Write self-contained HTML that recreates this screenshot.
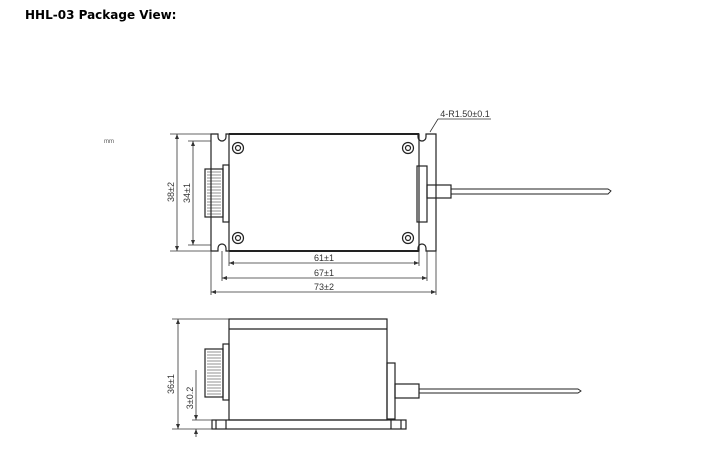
<!DOCTYPE html>
<html><head><style>
html,body{margin:0;padding:0;background:#fff;}
.t{position:absolute;left:25px;top:8px;font:bold 12px "DejaVu Sans",sans-serif;color:#000;}
</style></head><body>
<div style="position:relative;width:718px;height:455px;overflow:hidden">
<div class="t">HHL-03 Package View:</div>
<svg width="718" height="455" style="position:absolute;left:0;top:0" font-family="Liberation Sans, sans-serif">
<g stroke="#222" fill="none" stroke-width="1.2">
<!-- top view flange -->
<path d="M211,134 H218 V137 A4,4 0 0 0 226,137 V134 H418 V137 A4,4 0 0 0 426,137 V134 H436 V251 H426 V248 A4,4 0 0 0 418,248 V251 H226 V248 A4,4 0 0 0 218,248 V251 H211 Z"/>
<rect x="229" y="134" width="190" height="117"/>
<line x1="229" y1="134" x2="419" y2="134" stroke-width="2"/>
<line x1="229" y1="251" x2="419" y2="251" stroke-width="2"/>
<!-- left connector -->
<rect x="223" y="165" width="6" height="57"/>
<rect x="205" y="169" width="18" height="48"/>
<g stroke-width="0.5"><path d="M207,172H221M207,175H221M207,178H221M207,181H221M207,184H221M207,187H221M207,190H221M207,193H221M207,196H221M207,199H221M207,202H221M207,205H221M207,208H221M207,211H221M207,214H221"/></g>
<!-- right -->
<rect x="417" y="166" width="10" height="56"/>
<rect x="427" y="185" width="24" height="13"/>
<path d="M451,189 H608 L611,191 L608,194 H451" stroke-width="0.9"/>
<!-- holes -->
<circle cx="238" cy="148" r="5.5"/><circle cx="238" cy="148" r="2.5"/>
<circle cx="408" cy="148" r="5.5"/><circle cx="408" cy="148" r="2.5"/>
<circle cx="238" cy="238" r="5.5"/><circle cx="238" cy="238" r="2.5"/>
<circle cx="408" cy="238" r="5.5"/><circle cx="408" cy="238" r="2.5"/>
</g>
<g stroke="#333" fill="none" stroke-width="0.8">
<path d="M170,134H211 M170,251H211 M177,134V251 M188,141H211 M188,245H211 M193,141V245"/>
<path d="M229,251V266 M419,251V266 M222,251V281 M427,251V281 M211,251V295 M436,251V295"/>
<path d="M229,263H419 M222,278H427 M211,292H436"/>
<path d="M438,119 L430,132 M438,119 H491"/>
</g>
<g fill="#333">
<path d="M177,134l-2,5h4z M177,251l-2,-5h4z M193,141l-2,5h4z M193,245l-2,-5h4z"/>
<path d="M229,263l5,-2v4z M419,263l-5,-2v4z M222,278l5,-2v4z M427,278l-5,-2v4z M211,292l5,-2v4z M436,292l-5,-2v4z"/>
</g>
<g font-size="9" fill="#333" text-anchor="middle">
<text x="324" y="261">61±1</text>
<text x="324" y="276">67±1</text>
<text x="324" y="290">73±2</text>
<text x="174" y="192" transform="rotate(-90 174 192)">38±2</text>
<text x="190" y="193" transform="rotate(-90 190 193)">34±1</text>
<text x="465" y="117">4-R1.50±0.1</text>
<text x="174" y="384" transform="rotate(-90 174 384)">36±1</text>
<text x="193" y="398" transform="rotate(-90 193 398)">3±0.2</text>
</g>
<text x="104" y="143" font-size="6" fill="#555">mm</text>
<!-- side view -->
<g stroke="#222" fill="none" stroke-width="1.2">
<rect x="229" y="319" width="158" height="101"/>
<line x1="229" y1="329" x2="387" y2="329"/>
<rect x="212" y="420" width="194" height="9"/>
<path d="M216,420V429 M226,420V429 M391,420V429 M401,420V429"/>
<rect x="223" y="344" width="6" height="56"/>
<rect x="205" y="349" width="18" height="48"/>
<g stroke-width="0.5"><path d="M207,352H221M207,355H221M207,358H221M207,361H221M207,364H221M207,367H221M207,370H221M207,373H221M207,376H221M207,379H221M207,382H221M207,385H221M207,388H221M207,391H221M207,394H221"/></g>
<rect x="387" y="363" width="8" height="56"/>
<rect x="395" y="384" width="24" height="14"/>
<path d="M419,389 H578 L581,391 L578,393 H419" stroke-width="0.9"/>
</g>
<g stroke="#333" fill="none" stroke-width="0.8">
<path d="M172,319H229 M172,429H212 M178,319V429 M192,420H212 M196,370V420 M196,429V437"/>
</g>
<g fill="#333">
<path d="M178,319l-2,5h4z M178,429l-2,-5h4z M196,420l-2,-5h4z M196,429l-2,5h4z"/>
</g>
</svg>
</div>
</body></html>
